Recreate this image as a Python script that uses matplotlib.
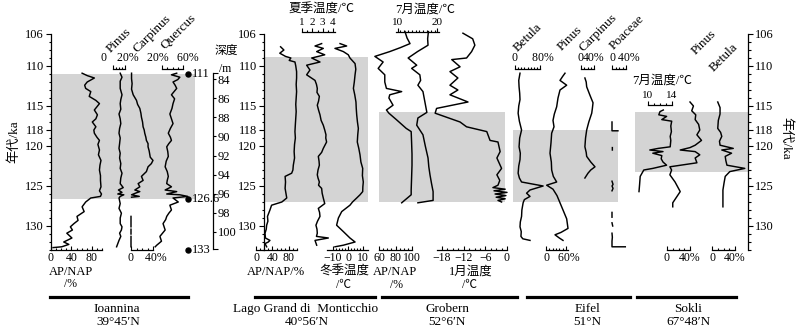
import numpy as np
import matplotlib.pyplot as plt
from matplotlib.ticker import FixedLocator
from matplotlib.lines import Line2D

W, H = 800, 332
Y_TOP, Y_BOT = 34, 250          # pixel rows of 106 ka and 133 ka
AGE_TOP, AGE_BOT = 106, 133
GRAY = '#d4d4d4'

plt.rcParams['font.family'] = ['Liberation Serif', 'Noto Sans CJK SC']
plt.rcParams['font.size'] = 8.5
plt.rcParams['axes.unicode_minus'] = True

nan = np.nan

# ---------------- Ioannina 39°45'N ----------------
ioa_ap_age = [110.9, 111.2, 111.5, 112.0, 112.4, 112.8, 113.2, 113.8, 114.3, 114.7, 115.1, 115.5, 116.1, 116.6,
              117.0, 117.6, 118.0, 118.4, 118.9, 119.3, 119.8, 120.5, 121.1, 121.8, 122.4, 123.0, 123.7, 124.3,
              125.1, 125.6, 126.0, 126.3, 126.5, 127.0, 127.6, 128.2, 128.8, 129.3, 129.7, 130.1, 130.5, 130.9,
              131.5, 132.0, 132.3, 132.6, 132.7]
ioa_ap = [61, 71, 85, 71, 66, 68, 78, 75, 88, 95, 90, 85, 91, 88, 81, 88, 84, 85, 90, 95, 92, 95, 93, 98, 96, 95,
          97, 97, 98, 95, 99, 97, 78, 68, 61, 65, 51, 53, 45, 38, 42, 31, 41, 25, 35, 21, 4]

ioa_pinus_age = [110.9, 111.4, 111.9, 112.8, 113.6, 114.2, 114.7, 115.4, 116.0, 116.6, 117.2, 117.8, 118.4, 119.0,
                 119.7, 120.3, 120.9, 121.5, 122.2, 122.8, 123.4, 124.0, 124.7, 125.2, 125.5, 125.8, 126.0, 126.1,
                 126.3, 126.5, 127.2, 127.8, 128.4, 129.0, 129.7, 130.1, 130.5, 130.9, 131.3, 131.8, 132.2, 132.6]
ioa_pinus = [12, 15, 12, 12, 15, 13, 12, 13, 10, 12, 13, 11, 10, 12, 11, 10, 12, 11, 13, 12, 15, 13, 12, 17, 9, 15,
             8, 18, 12, 10, 12, 10, 14, 12, 12, 15, 14, 11, 13, 10, 8, 6]

ioa_carp_age = [110.9, 111.6, 112.2, 112.9, 113.6, 114.3, 114.8, 115.3, 115.9, 116.4, 117.0, 117.6, 118.0, 118.4,
                118.9, 119.3, 119.7, 120.1, 120.6, 121.0, 121.4, 121.8, 122.2, 122.6, 123.2, 123.8, 124.3, 124.7,
                125.1, 125.5, 125.7, 125.9, 126.1, 126.3, 126.4, nan, 128.8, 130.1, nan, 130.4, 131.0, nan,
                131.3, 132.6]
ioa_carp = [1, 1, 2, 1, 4, 10, 12, 16, 18, 19, 21, 22, 24, 25, 27, 28, 31, 31, 33, 34, 35, 40, 37, 31, 28, 19, 22,
            13, 16, 7, 16, 8, 1, 15, 1, nan, 0, 0, nan, 0, 0, nan, 0, 0]

ioa_querc_age = [110.9, 111.1, 111.4, 111.7, 112.0, 112.4, 112.8, 113.2, 113.6, 114.1, 114.7, 115.3, 116.0, 116.6,
                 117.2, 117.8, 118.4, 118.9, 119.3, 119.7, 120.1, 120.7, 121.3, 121.9, 122.6, 123.2, 123.8, 124.3,
                 124.7, 125.1, 125.5, 125.7, 126.0, 126.1, 126.3, 126.5, 127.0, 127.4, 128.0, 128.4, 128.8, 129.2,
                 129.7, 130.1, 130.5, 130.9, 131.3, 131.9, 132.4, 132.6]
ioa_querc = [48, 38, 54, 50, 41, 45, 48, 43, 38, 44, 41, 39, 35, 38, 41, 36, 32, 36, 38, 33, 29, 31, 32, 28, 26, 30,
             32, 30, 29, 38, 26, 48, 29, 54, 69, 41, 51, 35, 38, 33, 29, 27, 22, 24, 26, 21, 16, 19, 10, 7]

ioa_dated_age = [111, 126.6, 133]
ioa_dated_lbl = ['111', '126.6', '133']
depth_ticks = [84, 86, 88, 90, 92, 94, 96, 98, 100]

# ---------------- Lago Grande di Monticchio 40°56'N ----------------
mon_ap_age = [107.6, 108.0, 108.4, 108.8, 109.0, 109.3, 109.5, 110.0, 110.7, 111.5, 112.3, 113.2, 114.0, 114.8,
              115.7, 116.5, 117.3, 118.2, 119.0, 119.8, 120.7, 121.5, 122.4, 123.0, 123.4, 123.8, 124.5, 125.3,
              125.9, 126.5, 127.0, 127.4, 128.0, 128.8, 129.4, 129.9, 130.4, 130.9, 131.5, 131.8, 132.0, 132.2,
              132.6]
mon_ap = [60, 68, 58, 72, 85, 81, 95, 97, 99, 99, 98, 99, 98, 97, 98, 97, 96, 95, 96, 94, 93, 94, 91, 90, 87, 71,
          72, 71, 73, 75, 63, 38, 34, 28, 29, 26, 25, 22, 23, 34, 30, 22, 26]

mon_sum_age = [107.2, 107.5, 107.8, 108.2, 108.6, 109.0, 109.5, 109.9, 110.5, 111.1, 111.8, 112.3, 112.8, 113.3,
               113.8, 114.4, 114.9, 115.5, 116.1, 116.8, 117.4, 118.0, 118.6, 119.0, 119.5, 120.3, 120.8, 121.3,
               121.9, 122.4, 123.0, 123.6, 124.0, 124.5, 124.9, 125.3, 125.9, 126.5, 127.2, 127.8, 128.3, 128.8,
               129.4, 129.9, 130.4, 130.9, 131.3, 131.5, 131.8, 132.4]
mon_sum = [2.9, 2.26, 3.06, 2.42, 3.2, 1.94, 2.74, 1.45, 1.77, 1.45, 2.26, 2.4, 2.48, 2.45, 2.68, 2.6, 2.48, 2.6,
           2.74, 2.85, 3.06, 3.2, 3.32, 3.3, 3.38, 3.06, 2.9, 2.58, 2.65, 2.68, 2.55, 2.48, 2.55, 2.68, 2.6, 2.9,
           2.95, 3.06, 3.2, 2.58, 2.7, 2.74, 2.5, 2.35, 2.45, 2.48, 2.4, 3.55, 2.26, 2.42]

mon_win_age = [107.2, 107.5, 107.8, 108.2, 108.6, 109.0, 109.7, 110.4, 111.1, 112.0, 112.8, 113.6, 114.5, 115.3,
               116.1, 117.0, 117.8, 118.6, 119.5, 120.3, 121.1, 122.0, 122.8, 123.7, 124.5, 125.1, 125.7, 126.1,
               126.5, 127.0, 127.4, 128.2, 129.0, 129.9, 130.7, 131.5, 132.0, 132.4, 132.6]
mon_win = [-5.3, -0.9, -8.7, -3.1, 0.2, 1.3, 4.7, 5.2, 4.7, 4.2, 3.6, 4.5, 5.3, 5.5, 5.8, 6.3, 6.9, 6.5, 6.2, 7.2,
           8.0, 8.6, 9.8, 9.6, 10.2, 9.9, 9.8, 8.0, 5.8, 3.0, 1.3, -4.2, -6.4, -7.6, -3.1, 1.3, 4.7, -3.1, -8.7]

# ---------------- Grobern 52°6'N ----------------
gro_ap_age = [105.7, 106.5, 107.2, 107.7, 108.2, 108.8, 109.5, 110.3, 111.1, 112.0, 112.8, 113.2, 113.6, 114.0,
              114.9, 115.5, 115.9, 116.7, 117.8, 118.2, 119.5, 121.0, 122.4, 124.0, 125.5, 126.1, 127.1]
gro_ap = [91.5, 94, 97.6, 86, 73, 55, 65, 59, 67, 67, 69, 87.5, 73, 72, 77, 69, 72, 81, 93, 99, 99.5, 100, 100,
          99.5, 99, 99, 87.5]

gro_jul_age = [105.7, 106.6, 107.4, 108.2, 109.0, 109.9, 110.3, 111.1, 111.8, 112.4, 113.2, 114.5, 115.8, 116.5,
               117.4, 118.6, 120.0, 121.5, 122.6, 123.6, 124.7, 125.7, 126.8, 127.1]
gro_jul = [17.8, 17.6, 17.7, 15.0, 12.6, 14.8, 13.5, 15.6, 15.8, 15.1, 16.4, 16.9, 17.4, 15.1, 14.8, 16.4, 17.0,
           17.7, 17.9, 18.2, 18.6, 19.0, 19.0, 15.1]

gro_jan_age = [105.9, 106.6, 107.4, 108.2, 109.0, 109.2, 110.1, 110.7, 111.5, 112.4, 113.0, 113.6, 114.5, 115.3,
               115.9, 117.0, 117.6, 118.2, 119.3, 119.5, 120.7, 121.5, 122.8, 123.6, 124.3, 124.9, 125.2, 125.4,
               125.6, 125.8, 126.0, 126.2, 126.4, 126.6, 126.8, 127.0]
gro_jan = [-12.2, -9.5, -8.9, -9.8, -11.2, -15.3, -13.0, -15.8, -13.6, -15.8, -13.6, -15.8, -10.8, -19.5, -19.9,
           -13.0, -11.2, -5.6, -4.7, -2.5, -1.9, -2.8, -1.5, -2.8, -2.0, -2.5, -3.9, -0.5, -3.6, 0.0, -3.3, -0.3,
           -3.0, -0.5, -2.5, -1.5]

# ---------------- Eifel 51°N ----------------
eif_bet_age = [110.9, 111.8, 112.6, 113.4, 114.2, 115.0, 115.9, 116.9, 118.0, 119.0, 120.1, 120.9, 121.7, 122.5,
               123.4, 124.0, 124.5, 125.0, 125.5, 125.9, 126.3, 126.7, 127.1, 128.0, 128.8, 129.5, 130.1, 130.7,
               131.3, 131.6, 131.8]
eif_bet = [16, 12, 13, 15, 16, 12, 10, 14, 21, 15, 13, 17, 16, 12, 10, 14, 21, 90, 48, 37, 48, 30, 26, 22, 21, 17,
           16, 20, 19, 25, 48]

eif_pin_age = [110.9, 111.3, 111.8, 112.4, 113.0, 114.0, 115.1, 116.0, 116.8, 117.6, 118.4, 119.6, 120.9, 122.0,
               123.0, 123.8, 124.5, 124.9, 125.4, 126.2, 127.1, 128.1, 129.1, 130.3, 130.8, 131.1, 131.5, 131.8]
eif_pin = [57, 50, 42, 62, 42, 36, 32, 25, 21, 24, 17, 15, 12, 16, 17, 22, 32, 2, 21, 33, 42, 52, 62, 66, 45, 27,
           40, 51]

eif_carp_age = [111.5, 112.0, 112.6, 113.6, 114.6, 115.3, 115.9, 117.0, 118.0, 119.0, 120.1, 120.8, 121.3, 122.0,
                122.6, 123.0, 123.4, 124.0]
eif_carp = [12, 16, 17.5, 27, 37, 35, 33, 24, 17.5, 14, 12, 16, 17.5, 30, 43, 30, 21.5, 12]

eif_poa_age = [117.0, 118.1, 118.1, nan, 120.2, 120.5, nan, 124.4, 124.8, 125.0, 125.3, 125.6, nan, 128.3, 128.9,
               nan, 129.6, 130.0, nan, 130.9, 131.4, 131.9, 132.6, 132.6]
eif_poa = [0, 0, 17, nan, 1, 1, nan, 0, 3, 0, 3, 0, nan, 0, 0, nan, 0, 2, nan, 0, 1, 0, 0, 38]

# ---------------- Sokli 67°48'N ----------------
sok_jul_age = [115.5, 115.7, 116.1, 116.3, 116.7, 116.9, 117.5, 118.2, 118.8, 119.3, 120.1, 120.3, 120.5, 120.7,
               120.9, 121.2, 121.6, 122.0, 122.4, 122.8, 123.0, 123.8, 124.8, 125.7]
sok_jul = [12.55, 12.0, 11.8, 13.1, 12.3, 13.95, 13.8, 13.9, 13.7, 13.8, 13.7, 11.7, 10.3, 12.5, 10.8, 12.3, 12.2,
           12.5, 13.1, 10.8, 9.3, 8.7, 8.6, 8.5]

sok_pin_age = [114.5, 115.0, 115.6, 116.1, 116.7, 117.3, 118.0, 118.6, 119.3, 119.9, 120.2, 120.5, 120.7, 121.1,
               121.5, 122.1, 122.6, 123.0, 123.6, 124.5, 125.7, 127.1, 127.6]
sok_pin = [40, 46, 43, 50, 49, 55, 57, 52, 60, 49, 40, 23, 49, 57, 49, 52, 5, 8, 5, 14, 23, 10, 10]

sok_bet_age = [114.5, 115.2, 116.0, 116.8, 117.8, 118.3, 118.8, 119.4, 119.9, 120.3, 120.5, 120.9, 121.3, 121.8,
               122.4, 122.8, 123.2, 123.8, 124.6, 125.5, 127.6]
sok_bet = [10, 14, 14, 11, 10, 15, 17, 13, 14, 37, 17, 34, 23, 24, 26, 57, 31, 23, 21, 19, 19]


fig = plt.figure(figsize=(W / 100, H / 100), dpi=100)


def column(x0, x1, v0, v1, y0=Y_TOP, y1=Y_BOT, ylim=(AGE_BOT, AGE_TOP)):
    # axes whose x range v0..v1 sits on pixel columns x0..x1
    ax = fig.add_axes([x0 / W, 1 - y1 / H, (x1 - x0) / W, (y1 - y0) / H])
    ax.set_xlim(v0, v1)
    ax.set_ylim(*ylim)
    ax.patch.set_visible(False)
    for s in ax.spines.values():
        s.set_visible(False)
    ax.set_xticks([])
    ax.set_yticks([])
    return ax


def bar(ax, where, lo, hi, ticks, labels, step, age=None, size=8.5):
    sp = ax.spines[where]
    sp.set_visible(True)
    sp.set_bounds(lo, hi)
    sp.set_linewidth(0.9)
    if age is not None:
        sp.set_position(('data', age))
    ax.xaxis.set_ticks_position(where)
    ax.xaxis.set_label_position(where)
    ax.set_xticks(ticks, labels=labels)
    ax.xaxis.set_minor_locator(FixedLocator(np.arange(lo, hi + step / 2, step)))
    ax.tick_params(axis='x', which='both', direction='in' if where == 'bottom' else 'out',
                   width=0.8, pad=1.2, labelsize=size)
    ax.tick_params(axis='x', which='major', length=2.6)
    ax.tick_params(axis='x', which='minor', length=1.8)


def curve(ax, ages, vals):
    ax.plot(vals, ages, color='k', lw=1.05, clip_on=False)


def age_axis(ax, side):
    sp = ax.spines[side]
    sp.set_visible(True)
    sp.set_linewidth(0.9)
    ax.yaxis.set_ticks_position(side)
    ax.set_yticks([106, 110, 115, 118, 120, 125, 130])
    ax.yaxis.set_minor_locator(FixedLocator(np.arange(106, 134)))
    ax.tick_params(axis='y', which='both', direction='out', width=0.8, pad=1.5, labelsize=9)
    ax.tick_params(axis='y', which='major', length=3.5)
    ax.tick_params(axis='y', which='minor', length=1.8)


def ptext(x, y, s, **kw):
    kw.setdefault('ha', 'center')
    kw.setdefault('va', 'center')
    fig.text(x / W, 1 - y / H, s, **kw)


def species(x, y, s):
    ptext(x, y, s, ha='left', va='baseline', rotation=45, rotation_mode='anchor', fontsize=9.5)


def site_line(x0, x1):
    fig.add_artist(Line2D([x0 / W, x1 / W], [1 - 297 / H] * 2, color='k', lw=2.3))


# ---------- Ioannina ----------
fr = column(51, 195, 0, 1)
fr.axhspan(111, 126.6, color=GRAY, lw=0, zorder=0)
age_axis(fr, 'left')

ax = column(51, 102, 0, 100)
curve(ax, ioa_ap_age, ioa_ap)
bar(ax, 'bottom', 0, 100, [0, 40, 80], ['0', '40', '80'], 10)

ax = column(113, 125, 0, 20)
curve(ax, ioa_pinus_age, ioa_pinus)
bar(ax, 'top', 0, 20, [0, 20], ['0      ', '  20%'], 5, age=110.4)

ax = column(131, 153, 0, 40)
curve(ax, ioa_carp_age, ioa_carp)
bar(ax, 'bottom', 0, 40, [0, 40], ['0', '  40%'], 10)

ax = column(162, 183, 20, 60)
curve(ax, ioa_querc_age, ioa_querc)
bar(ax, 'top', 20, 60, [20, 60], ['20%   ', '   60%'], 10, age=110.4)

ax = column(183, 193, 0, 1)
ax.plot([0.5] * 3, ioa_dated_age, 'o', color='k', ms=3.6, clip_on=False)
for a, s in zip(ioa_dated_age, ioa_dated_lbl):
    ax.annotate(s, (0.5, a), xytext=(2.5, 0), textcoords='offset points', va='center', fontsize=9)

dp = column(200, 213, 0, 1, y0=73, y1=249, ylim=(101.78, 83.37))
dp.spines['right'].set_visible(True)
dp.spines['right'].set_linewidth(0.9)
dp.yaxis.set_ticks_position('right')
dp.set_yticks(depth_ticks)
dp.yaxis.set_minor_locator(FixedLocator([83.37, 101.78]))
dp.tick_params(axis='y', which='both', direction='out', width=0.8, pad=1.0, labelsize=9)
dp.tick_params(axis='y', which='major', length=2.5)
dp.tick_params(axis='y', which='minor', length=3.5)
ptext(215, 51, '深度', ha='left')
ptext(219, 69, '/m', ha='left')

species(111, 53, 'Pinus')
species(137, 53, 'Carpinus')
species(165, 50, 'Quercus')
ptext(71, 272, 'AP/NAP', fontsize=9)
ptext(70, 284, '/%')
site_line(50, 188)
ptext(117, 309, 'Ioannina', fontsize=9.5)
ptext(118, 322, '39°45′N', fontsize=9.5)
ptext(14, 142, '年代/ka', rotation=90, fontsize=9.5)

# ---------- Monticchio ----------
fr = column(264, 368, 0, 1)
fr.axhspan(108.9, 127.0, color=GRAY, lw=0, zorder=0)
age_axis(fr, 'left')

ax = column(256, 297, 0, 100)
curve(ax, mon_ap_age, mon_ap)
bar(ax, 'bottom', 0, 100, [0, 40, 80], ['0', '40', '80'], 10)

ax = column(302, 333, 1, 4)
curve(ax, mon_sum_age, mon_sum)
bar(ax, 'top', 1, 4.2, [1, 2, 3, 4], ['1', '2', '3', '4'], 0.5, age=105.75, size=8)

ax = column(333, 363, -10, 10)
curve(ax, mon_win_age, mon_win)
bar(ax, 'bottom', -14, 13, [-10, 0, 10], ['−10', '0', '10'], 2)

ptext(321, 10, '夏季温度/℃', fontsize=9)
ptext(276, 272, 'AP/NAP/%', fontsize=9)
ptext(344, 272, '冬季温度', fontsize=9)
ptext(343, 285, '/℃')
site_line(255, 375)
ptext(306, 309, 'Lago Grand di  Monticchio', fontsize=9.5)
ptext(307, 322, '40°56′N', fontsize=9.5)

# ---------- Grobern ----------
fr = column(379, 505, 0, 1)
fr.axhspan(115.8, 127.0, color=GRAY, lw=0, zorder=0)

ax = column(379, 412, 60, 100)
curve(ax, gro_ap_age, gro_ap)
bar(ax, 'bottom', 60, 100, [60, 80, 100], ['60', '80', '100'], 5)

ax = column(398, 437, 10, 20)
curve(ax, gro_jul_age, gro_jul)
bar(ax, 'top', 9.5, 20.5, [10, 20], ['10', '20'], 1, age=105.75, size=8)

ax = column(442, 507, -18, 0)
curve(ax, gro_jan_age, gro_jan)
bar(ax, 'bottom', -19.5, 0, [-18, -12, -6, 0], ['−18', '−12', '−6', '0'], 1.5)

ptext(425, 10, '7月温度/℃', fontsize=9)
ptext(395, 272, 'AP/NAP', fontsize=9)
ptext(396, 285, '/%')
ptext(471, 272, '1月温度', fontsize=9)
ptext(469, 285, '/℃')
site_line(382, 517)
ptext(447, 309, 'Grobern', fontsize=9.5)
ptext(447, 322, '52°6′N', fontsize=9.5)

# ---------- Eifel ----------
fr = column(513, 618, 0, 1)
fr.axhspan(118.0, 127.0, color=GRAY, lw=0, zorder=0)

ax = column(515, 540, 0, 80)
curve(ax, eif_bet_age, eif_bet)
bar(ax, 'top', 0, 80, [0, 80], ['0', '  80%'], 10, age=110.4)

ax = column(546, 566, 0, 60)
curve(ax, eif_pin_age, eif_pin)
bar(ax, 'bottom', 0, 66, [0, 60], ['0', '  60%'], 10)

ax = column(581, 594, 0, 40)
curve(ax, eif_carp_age, eif_carp)
bar(ax, 'top', 0, 40, [0, 40], ['0', '40%'], 10, age=110.4)

ax = column(612, 626, 0, 40)
curve(ax, eif_poa_age, eif_poa)
bar(ax, 'top', 0, 40, [0, 40], ['0', '  40%'], 10, age=110.4)

species(518, 52, 'Betula')
species(562, 51, 'Pinus')
species(583, 52, 'Carpinus')
species(614, 50, 'Poaceae')
site_line(527, 630)
ptext(587, 309, 'Eifel', fontsize=9.5)
ptext(587, 322, '51°N', fontsize=9.5)

# ---------- Sokli ----------
fr = column(635, 748, 0, 1)
fr.axhspan(115.8, 123.2, color=GRAY, lw=0, zorder=0)
age_axis(fr, 'right')

ax = column(648, 672, 10, 14)
curve(ax, sok_jul_age, sok_jul)
bar(ax, 'top', 10, 14, [10, 14], ['10', '14'], 1, age=114.9, size=8)

ax = column(667, 690, 0, 40)
curve(ax, sok_pin_age, sok_pin)
bar(ax, 'bottom', 0, 40, [0, 40], ['0', '40%'], 10)

ax = column(712, 735, 0, 40)
curve(ax, sok_bet_age, sok_bet)
bar(ax, 'bottom', 0, 40, [0, 40], ['0', '40%'], 10)

ptext(662, 81, '7月温度/℃', fontsize=9)
species(696, 55, 'Pinus')
species(714, 72, 'Betula')
site_line(637, 736)
ptext(688, 309, 'Sokli', fontsize=9.5)
ptext(688, 322, '67°48′N', fontsize=9.5)
ptext(786, 138, '年代/ka', rotation=-90, fontsize=9.5)

fig.savefig('out.png', dpi=100)
